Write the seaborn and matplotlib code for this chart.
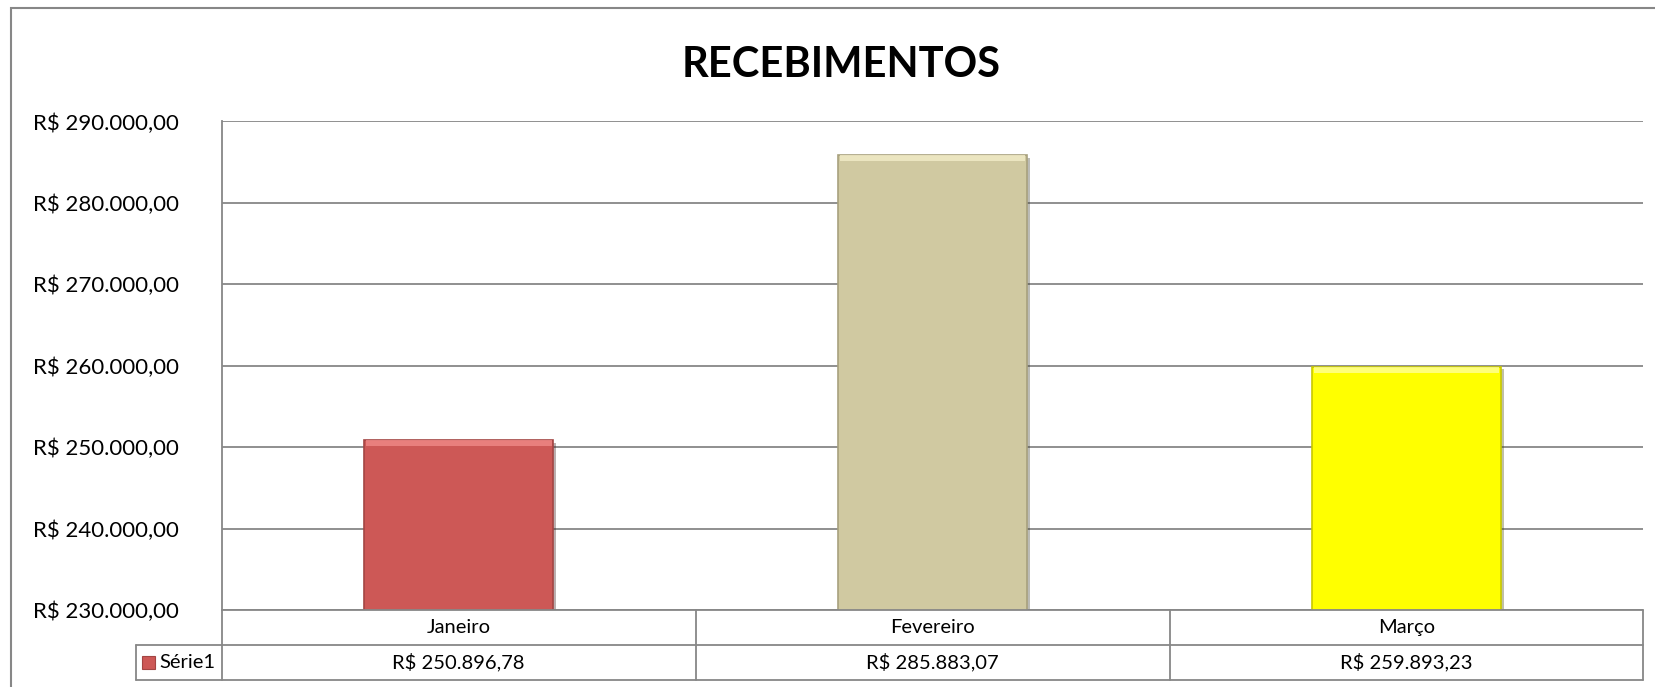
import matplotlib
matplotlib.use("Agg")
import matplotlib.pyplot as plt
import matplotlib.patheffects as pe
import seaborn as sns
import pandas as pd
from matplotlib.patches import Rectangle
from matplotlib.ticker import FuncFormatter, MultipleLocator

# ── Data ─────────────────────────────────────────────────────────────────────
months = ["Janeiro", "Fevereiro", "Março"]
values = [250896.78, 285883.07, 259893.23]
bar_colors = ["#CD5856", "#D0C9A1", "#FFFF00"]
edge_colors = ["#A34543", "#A8A17E", "#C8C800"]
top_colors = ["#F08A88", "#F3EDC8", "#FFFF9A"]
series_name = "Série1"
title = "RECEBIMENTOS"
y_min, y_max, y_step = 230000, 290000, 10000

GRID = "#878787"
FONT = ["Lato", "DejaVu Sans"]


def brl(v, decimals=2):
    s = f"{v:,.{decimals}f}"
    return "R$ " + s.replace(",", "X").replace(".", ",").replace("X", ".")


sns.set_theme(style="white")
plt.rcParams["font.family"] = FONT
plt.rcParams["text.color"] = "black"

df = pd.DataFrame({"mes": months, "valor": values})

fig = plt.figure(figsize=(16.55, 6.87), dpi=100)
ax = fig.add_axes([0.134, 0.1121, 0.859, 0.7112])

sns.barplot(data=df, x="mes", y="valor", hue="mes", palette=bar_colors,
            width=0.4, legend=False, ax=ax, saturation=1)

# bars: darker edge, soft shadow and a light bevel strip along the top
bevel = 6 * (y_max - y_min) / (0.7112 * 687)
for patch, ec, tc in zip(list(ax.patches), edge_colors, top_colors):
    patch.set_edgecolor(ec)
    patch.set_linewidth(1.2)
    patch.set_path_effects([pe.SimplePatchShadow(offset=(2, -2), alpha=0.35),
                            pe.Normal()])
    top = patch.get_y() + patch.get_height()
    ax.add_patch(Rectangle((patch.get_x() + 0.004, top - bevel),
                           patch.get_width() - 0.008, bevel,
                           facecolor=tc, edgecolor="none", alpha=0.8, zorder=3))

ax.set_ylim(y_min, y_max)
ax.set_xlim(-0.5, len(months) - 0.5)
ax.yaxis.set_major_locator(MultipleLocator(y_step))
ax.yaxis.set_major_formatter(FuncFormatter(lambda v, _: brl(v)))
ax.grid(True, axis="y", color=GRID, lw=1.3)
ax.set_axisbelow(True)
ax.tick_params(axis="y", length=0, pad=31, labelsize=16, labelcolor="black")
ax.tick_params(axis="x", length=0, labelbottom=False)
ax.set_xlabel("")
ax.set_ylabel("")
for side in ["top", "right", "bottom"]:
    ax.spines[side].set_visible(False)
ax.spines["left"].set_color(GRID)
ax.spines["left"].set_linewidth(1.3)

# ── Data table under the plot ────────────────────────────────────────────────
row_h = 35 / (0.7112 * 687)
leg_left = (136 - 0.134 * 1655) / (0.859 * 1655)
n = len(months)
line_kw = dict(color=GRID, lw=1.3, transform=ax.transAxes, clip_on=False)

ax.plot([0, 1], [0, 0], **line_kw)
ax.plot([leg_left, 1], [-row_h, -row_h], **line_kw)
ax.plot([leg_left, 1], [-2 * row_h, -2 * row_h], **line_kw)
for i in range(n + 1):
    ax.plot([i / n, i / n], [0, -2 * row_h], **line_kw)
ax.plot([leg_left, leg_left], [-row_h, -2 * row_h], **line_kw)

for i, (m, v) in enumerate(zip(months, values)):
    xc = (i + 0.5) / n
    ax.text(xc, -0.5 * row_h, m, ha="center", va="center", fontsize=14.5,
            transform=ax.transAxes)
    ax.text(xc, -1.5 * row_h, brl(v), ha="center", va="center", fontsize=14.5,
            transform=ax.transAxes)

# legend key inside the table
key_w = 13 / (0.859 * 1655)
key_h = 13 / (0.7112 * 687)
ax.add_patch(Rectangle((leg_left + 6 / (0.859 * 1655), -1.5 * row_h - key_h / 2),
                       key_w, key_h, facecolor=bar_colors[0],
                       edgecolor=edge_colors[0], lw=0.8,
                       transform=ax.transAxes, clip_on=False))
ax.text(leg_left + 23 / (0.859 * 1655), -1.5 * row_h, series_name,
        ha="left", va="center", fontsize=14.5, transform=ax.transAxes)

# ── Title and chart border ──────────────────────────────────────────────────
fig.text(0.508, 0.905, title, ha="center", va="center", fontsize=30,
         fontweight="bold")
fig.add_artist(Rectangle((10.5 / 1655, -0.1), 1.2, 1.1 - 8.4 / 687,
                         transform=fig.transFigure, fill=False,
                         edgecolor=GRID, lw=1.5))

fig.savefig("out.png", dpi=100)
